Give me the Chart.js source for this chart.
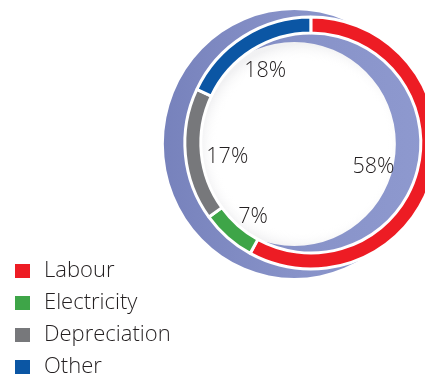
<!DOCTYPE html>
<html>
<head>
<meta charset="utf-8">
<script src="https://cdn.jsdelivr.net/npm/chart.js@4.4.1/dist/chart.umd.min.js"></script>
<style>
    html, body { margin: 0; padding: 0; width: 425px; height: 378px; overflow: hidden; background: #fff; }
    #costChart { position: absolute; left: 0; top: -102px; }
</style>
</head>
<body>
<canvas id="costChart" height="490"></canvas>
<script>
// Cost breakdown (% of total)
const categories = ['Labour', 'Electricity', 'Depreciation', 'Other'];
const shares = [58, 7, 17, 18];
const sliceColors = ['#ed1c24', '#3ea548', '#77787b', '#0b56a4'];

const textColor = '#231f20';
const fontFamily = "'Open Sans', sans-serif";
const legendFont = { family: fontFamily, size: 22, weight: 300 };
const padLeft = 2;

// where each percentage sits inside the ring:
// r = fraction of the inner radius, turn = nudge along the ring in degrees
const labelPlace = [
    { r: 0.61, turn: 6.6 },
    { r: 0.85, turn: -3.2 },
    { r: 0.77, turn: -4.1 },
    { r: 0.775, turn: 0 }
];

// lavender ring sitting behind the slices, shifted a little to the left
const backRing = {
    id: 'backRing',
    beforeDatasetsDraw(chart) {
        let arc = chart.getDatasetMeta(0).data[0];
        if (!arc) return;
        let ctx = chart.ctx;
        let R = arc.outerRadius;
        let cx = arc.x - 16.5;
        let cy = arc.y + 1;

        ctx.save();
        let grad = ctx.createLinearGradient(cx - R - 5, 0, cx + R + 5, 0);
        grad.addColorStop(0, '#7782bc');
        grad.addColorStop(0.5, '#8792c8');
        grad.addColorStop(1, '#8e99cf');
        ctx.fillStyle = grad;
        ctx.beginPath();
        ctx.ellipse(cx, cy, R + 4.5, R + 8, 0, 0, Math.PI * 2);
        ctx.ellipse(cx, cy, R - 24.5, R - 24, 0, 0, Math.PI * 2);
        ctx.fill('evenodd');

        // faint shading just inside the ring
        let shade = ctx.createRadialGradient(cx + 8, cy + 2, 0, cx + 8, cy + 2, R - 24);
        shade.addColorStop(0, 'rgba(255,255,255,0)');
        shade.addColorStop(0.84, 'rgba(255,255,255,0)');
        shade.addColorStop(1, 'rgba(80,80,100,0.08)');
        ctx.fillStyle = shade;
        ctx.beginPath();
        ctx.ellipse(cx, cy, R - 24.5, R - 24, 0, 0, Math.PI * 2);
        ctx.fill();
        ctx.restore();
    }
};

// percentage text inside the ring
const sliceLabels = {
    id: 'sliceLabels',
    afterDatasetsDraw(chart) {
        let ctx = chart.ctx;
        let arcs = chart.getDatasetMeta(0).data;
        ctx.save();
        ctx.fillStyle = textColor;
        ctx.font = `300 21.5px ${fontFamily}`;
        ctx.textAlign = 'center';
        ctx.textBaseline = 'middle';
        arcs.forEach((arc, i) => {
            let mid = (arc.startAngle + arc.endAngle) / 2 + labelPlace[i].turn * Math.PI / 180;
            let r = arc.innerRadius * labelPlace[i].r;
            ctx.fillText(shares[i] + '%', arc.x + Math.cos(mid) * r, arc.y + Math.sin(mid) * r);
        });
        ctx.restore();
    }
};

let canvas = document.getElementById('costChart');

// the legend takes the left column; size the canvas so the ring centre lands at x = 312
let measure = canvas.getContext('2d');
measure.font = `${legendFont.weight} ${legendFont.size}px ${fontFamily}`;
let widest = Math.max(...categories.map(c => measure.measureText(c).width));
let legendWidth = 12 + 21 + legendFont.size / 2 + widest + 10;
canvas.width = Math.round(624 - padLeft - legendWidth);

let costChart = new Chart(canvas, {
    type: 'doughnut',
    data: {
        labels: categories,
        datasets: [{
            data: shares,
            backgroundColor: sliceColors,
            borderColor: '#ffffff',
            borderWidth: 3
        }]
    },
    options: {
        responsive: false,
        animation: false,
        radius: 126,
        cutout: '87.3%',
        layout: { padding: { left: padLeft } },
        plugins: {
            legend: {
                position: 'left',
                align: 'end',
                labels: {
                    color: textColor,
                    font: legendFont,
                    boxWidth: 21,
                    boxHeight: 20,
                    padding: 10,
                    generateLabels(chart) {
                        return categories.map((name, i) => ({
                            text: name,
                            fillStyle: sliceColors[i],
                            strokeStyle: '#ffffff',
                            lineWidth: 6,
                            fontColor: textColor,
                            hidden: false,
                            index: i
                        }));
                    }
                }
            },
            tooltip: { enabled: false }
        }
    },
    plugins: [backRing, sliceLabels]
});
</script>
</body>
</html>
